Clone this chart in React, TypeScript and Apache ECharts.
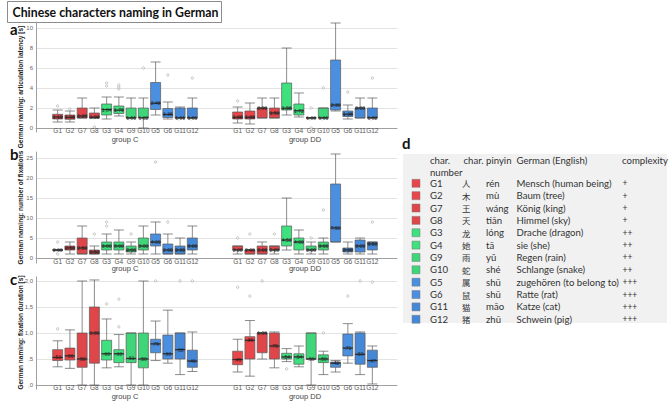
import React, { useEffect, useRef } from "react";
import * as echarts from "echarts";

// ---------- data ----------
const categories = ["G1", "G2", "G7", "G8", "G3", "G4", "G9", "G10", "G5", "G6", "G11", "G12"];
const groups = ["group C", "group DD"];

// [min, Q1, median, Q3, max]
const latencyC = [
  [0.6, 0.9, 1.1, 1.37, 1.8], [0.6, 0.87, 1.08, 1.3, 1.7], [1.0, 1.0, 1.2, 2.0, 3.0], [1.0, 1.0, 1.08, 1.5, 2.0],
  [0.9, 1.3, 1.84, 2.4, 3.1], [1.2, 1.45, 1.79, 2.2, 3.1], [1.0, 1.0, 1.01, 2.0, 3.0], [0.0, 1.0, 1.02, 2.0, 3.0],
  [1.3, 1.85, 2.48, 4.55, 6.6], [0.9, 1.05, 1.36, 1.95, 2.6], [1.0, 1.0, 1.01, 2.0, 2.1], [1.0, 1.0, 1.01, 2.0, 3.0],
];
const latencyDD = [
  [0.5, 0.9, 1.08, 1.6, 2.1], [0.4, 0.9, 1.08, 1.7, 2.5], [1.0, 1.0, 2.0, 2.0, 3.0], [1.0, 1.0, 1.5, 2.0, 3.0],
  [1.3, 1.8, 1.98, 4.5, 8.0], [1.1, 1.3, 1.72, 2.4, 3.5], [1.0, 1.0, 1.0, 1.05, 1.05], [1.0, 1.0, 1.01, 2.0, 2.0],
  [1.7, 1.8, 2.3, 6.8, 10.5], [0.9, 1.15, 1.38, 1.7, 2.3], [1.0, 1.0, 2.0, 2.0, 3.0], [1.0, 1.0, 1.02, 2.0, 3.0],
];
const latencyOutC = [[2.2], [1.9], [], [0.1], [4.2, 4.5], [3.9, 4.1, 4.3], [], [6.0], [], [5.3], [], [5.0]];
const latencyOutDD = [[2.7], [], [], [], [], [], [2.0, 0.0], [4.0], [], [3.6], [], [5.0]];

const fixCountC = [
  [2, 2, 2, 2, 2], [1, 2, 2.5, 3, 4], [1, 1, 2.5, 5, 8], [1, 1, 1.5, 2, 3],
  [1, 2, 3, 4, 6], [1, 2, 3, 4, 7], [1, 1.5, 2, 3, 4], [1, 2, 3, 5, 8],
  [1, 3, 4, 6, 9], [1, 1, 2, 3.5, 6], [1, 1, 2, 3, 5], [1, 2, 3, 5, 8],
];
const fixCountDD = [
  [1, 2, 2, 3, 3], [1, 1, 2, 2, 2], [1, 1, 2, 3, 4], [1, 2, 2, 3, 3],
  [2, 3, 4.5, 8, 15], [1, 2, 4, 5, 7], [1, 2, 2, 3, 4], [1, 2, 3, 4, 5],
  [4, 4, 7.5, 18.5, 26], [1, 1.5, 2, 2.5, 4], [1, 1.5, 3, 4.5, 5], [1, 2, 3.5, 4, 4],
];
const fixCountOutC = [[4, 1], [], [], [6], [8, 9], [], [6], [], [24], [9], [], []];
const fixCountOutDD = [[5], [6], [], [6], [], [], [5], [12], [], [], [], [9]];

const fixDurC = [
  [0.35, 0.47, 0.53, 0.68, 0.85], [0.32, 0.48, 0.56, 0.71, 1.06], [0.0, 0.34, 0.5, 1.0, 2.0], [0.0, 0.42, 1.0, 1.5, 2.02],
  [0.33, 0.48, 0.6, 0.86, 1.27], [0.35, 0.43, 0.6, 0.68, 0.97], [0.0, 0.43, 0.51, 1.0, 1.0], [0.0, 0.33, 0.5, 1.0, 2.0],
  [0.47, 0.62, 0.79, 0.88, 1.23], [0.42, 0.5, 0.6, 0.96, 1.44], [0.2, 0.5, 0.68, 1.0, 1.0], [0.26, 0.34, 0.46, 0.67, 1.02],
];
const fixDurDD = [
  [0.25, 0.39, 0.49, 0.65, 0.88], [0.17, 0.5, 0.86, 0.93, 1.24], [0.5, 0.62, 1.0, 1.0, 1.0], [0.33, 0.5, 0.75, 1.0, 1.02],
  [0.45, 0.5, 0.54, 0.61, 0.7], [0.35, 0.4, 0.54, 0.6, 0.75], [0.0, 0.5, 0.5, 1.0, 1.0], [0.2, 0.43, 0.5, 0.58, 0.65],
  [0.25, 0.34, 0.42, 0.44, 0.47], [0.42, 0.56, 0.71, 0.98, 1.18], [0.2, 0.4, 0.59, 1.0, 1.02], [0.02, 0.34, 0.47, 0.67, 0.75],
];
const fixDurOutC = [[1.08], [], [], [], [1.56], [1.12, 1.65], [], [], [2.0], [], [2.0], [2.0]];
const fixDurOutDD = [[1.88], [1.71], [2.0], [], [0.31], [], [], [1.0], [], [1.71], [2.0], [1.98]];

// table (panel d)
const tableChars = ["人", "木", "王", "天", "龙", "她", "雨", "蛇", "属", "鼠", "猫", "猪"];
const tablePinyin = ["rén", "mù", "wáng", "tiān", "lóng", "tā", "yǔ", "shé", "shū", "shū", "māo", "zhū"];
const tableGerman = [
  "Mensch (human being)", "Baum (tree)", "König (king)", "Himmel (sky)", "Drache (dragon)", "sie (she)",
  "Regen (rain)", "Schlange (snake)", "zugehören (to belong to)", "Ratte (rat)", "Katze (cat)", "Schwein (pig)",
];
const tableComplexity = ["+", "+", "+", "+", "++", "++", "++", "++", "+++", "+++", "+++", "+++"];
const tableHeader = ["char.", "char.", "pinyin", "German (English)", "complexity"];

const titleText = "Chinese characters naming in German";
const yTitles = [
  "German naming: articulation latency [s]",
  "German naming: number of fixations",
  "German naming: fixation duration [s]",
];

// ---------- styles ----------
const boxColors = [
  "#e8464a", "#e8464a", "#de4649", "#de4649",
  "#3fe07e", "#3fe07e", "#3fd679", "#3fd679",
  "#4a8fe0", "#4a8fe0", "#4688d8", "#4688d8",
];
const AX_FONT = "Liberation Sans";
const TBL_FONT = "Lato";

const dec = (v: number, d: number) => {
  const s = v.toFixed(d).replace(".", ",");
  return v < 1 && v >= 0 ? s.replace(/^0/, "") : s;
};

const panels = [
  {
    top: 22, height: 110, min: -0.4, max: 10.6, tickTop: 28, tickHeight: 100, tickMax: 10, interval: 2,
    titleY: 87, letter: "a", letterY: 29, nameGap: 3,
    data: [latencyC, latencyDD], outs: [latencyOutC, latencyOutDD],
    axisFmt: (v: number) => String(v), medFmt: (v: number) => v.toFixed(2).replace(".", ","),
  },
  {
    top: 152, height: 111, min: -1.25, max: 26.5, tickTop: 158, tickHeight: 100, tickMax: 25, interval: 5,
    titleY: 207.5, letter: "b", letterY: 154, nameGap: 1,
    data: [fixCountC, fixCountDD], outs: [fixCountOutC, fixCountOutDD],
    axisFmt: (v: number) => String(v), medFmt: (v: number) => v.toFixed(2).replace(".", ","),
  },
  {
    top: 276.84, height: 112.32, min: -0.08, max: 2.08, tickTop: 281, tickHeight: 104, tickMax: 2, interval: 0.5,
    titleY: 332.5, letter: "c", letterY: 279, nameGap: 3,
    data: [fixDurC, fixDurDD], outs: [fixDurOutC, fixDurOutDD],
    axisFmt: (v: number) => dec(v, 1), medFmt: (v: number) => dec(v, 2),
  },
];

const PLOT_LEFT = 36;
const PLOT_WIDTH = 361;
const GROUP_LEFT = [51.55, 231.55];
const GROUP_WIDTH = 146.9;

function buildOption() {
  const grid: any[] = [];
  const xAxis: any[] = [];
  const yAxis: any[] = [];
  const series: any[] = [];
  const graphic: any[] = [];

  panels.forEach((p, pi) => {
    const base = pi * 4;
    // frame grid
    grid.push({ left: PLOT_LEFT, width: PLOT_WIDTH, top: p.top, height: p.height, outerBoundsMode: "none" });
    xAxis.push({
      gridIndex: base, type: "value", min: 0, max: 1,
      axisLine: { show: true, lineStyle: { color: "#a0a0a0", width: 1 } },
      axisTick: { show: false }, axisLabel: { show: false }, splitLine: { show: false },
    });
    yAxis.push({
      gridIndex: base, type: "value", min: p.min, max: p.max,
      axisLine: { show: true, lineStyle: { color: "#a0a0a0", width: 1 } },
      axisTick: { show: false }, axisLabel: { show: false }, splitLine: { show: false },
    });
    // tick grid
    grid.push({ left: PLOT_LEFT, width: PLOT_WIDTH, top: p.tickTop, height: p.tickHeight, outerBoundsMode: "none" });
    xAxis.push({ gridIndex: base + 1, type: "value", min: 0, max: 1, show: false });
    yAxis.push({
      gridIndex: base + 1, type: "value", min: 0, max: p.tickMax, interval: p.interval,
      axisLine: { show: false }, axisTick: { show: false },
      axisLabel: { fontSize: 6, color: "#666", margin: 3, fontFamily: AX_FONT, formatter: p.axisFmt },
      splitLine: { show: true, lineStyle: { color: "#dcdcdc", width: 0.8 } },
    });
    // group grids
    [0, 1].forEach((g) => {
      const gi = base + 2 + g;
      grid.push({ left: GROUP_LEFT[g], width: GROUP_WIDTH, top: p.top, height: p.height, outerBoundsMode: "none" });
      xAxis.push({
        gridIndex: gi, type: "category", data: categories,
        axisLine: { show: false }, axisTick: { show: false },
        axisLabel: { interval: 0, fontSize: 6.5, color: "#555", margin: -5.5, fontFamily: AX_FONT },
        name: groups[g], nameLocation: "middle", nameGap: p.nameGap, nameMoveOverlap: false,
        nameTextStyle: { fontSize: 7.5, color: "#444", fontFamily: AX_FONT },
      });
      yAxis.push({ gridIndex: gi, type: "value", min: p.min, max: p.max, show: false });

      const vals = p.data[g];
      series.push({
        type: "boxplot", xAxisIndex: gi, yAxisIndex: gi, boxWidth: [10, 10],
        itemStyle: { borderColor: "#5a5a5a", borderWidth: 0.7 },
        data: vals.map((v, i) => ({ value: v, itemStyle: { color: boxColors[i], borderColor: "#5a5a5a", borderWidth: 0.7 } })),
        silent: true,
      });
      series.push({
        type: "scatter", xAxisIndex: gi, yAxisIndex: gi, symbol: "rect", symbolSize: [10, 1.3], z: 4,
        itemStyle: { color: "#1f1f1f" }, silent: true,
        label: {
          show: true, position: "inside", offset: [0, -2.6], fontSize: 5, color: "#111", fontFamily: AX_FONT,
          formatter: (q: any) => p.medFmt(q.value[1]),
        },
        labelLayout: { hideOverlap: false },
        data: vals.map((v, i) => [i, v[2]]),
      });
      const outs: number[][] = [];
      p.outs[g].forEach((arr, i) => arr.forEach((v) => outs.push([i, v])));
      series.push({
        type: "scatter", xAxisIndex: gi, yAxisIndex: gi, symbol: "circle", symbolSize: 2.4, z: 4, silent: true,
        itemStyle: { color: "#ffffff", borderColor: "#8a8a8a", borderWidth: 0.6 },
        data: outs,
      });
    });

    graphic.push({
      type: "text", x: 20, y: p.titleY, rotation: Math.PI / 2,
      style: { text: yTitles[pi], fontSize: 6.5, fontWeight: "bold", fontFamily: AX_FONT, fill: "#222", align: "center", verticalAlign: "middle" },
    });
    graphic.push({
      type: "text", x: 10, y: p.letterY,
      style: { text: p.letter, fontSize: 15, fontWeight: "bold", fontFamily: TBL_FONT, fill: "#111", align: "left", verticalAlign: "middle" },
    });
  });

  // title box
  graphic.push({ type: "rect", shape: { x: 7.5, y: 1.5, width: 214, height: 21 }, style: { fill: "#fff", stroke: "#8c8c8c", lineWidth: 1 } });
  graphic.push({
    type: "text", x: 12.5, y: 12.5,
    style: { text: titleText, fontSize: 12.3, fontWeight: "bold", fontFamily: TBL_FONT, fill: "#111", align: "left", verticalAlign: "middle" },
  });

  // table d
  graphic.push({
    type: "text", x: 402, y: 143,
    style: { text: "d", fontSize: 15, fontWeight: "bold", fontFamily: TBL_FONT, fill: "#111", align: "left", verticalAlign: "middle" },
  });
  graphic.push({ type: "rect", shape: { x: 403, y: 154, width: 264, height: 169 }, style: { fill: "#f1f1f1" } });
  const colX = [430, 463.5, 486, 516.5, 622];
  const tStyle = (text: string, x: number, y: number, family = TBL_FONT, size = 9.6) => ({
    type: "text", x, y,
    style: { text, fontSize: size, lineHeight: 11, fontFamily: family, fill: "#333", align: "left", verticalAlign: "middle" },
  });
  tableHeader.forEach((h, i) => graphic.push(tStyle(h, colX[i], 160)));
  graphic.push(tStyle("number", colX[0], 172));
  categories.forEach((c, i) => {
    const y = 183.3 + i * 12.36;
    graphic.push({
      type: "rect", shape: { x: 412, y: y - 4, width: 8, height: 8 },
      style: { fill: boxColors[i], stroke: "#7a7a7a", lineWidth: 0.5 },
    });
    graphic.push(tStyle(c, 430, y));
    graphic.push(tStyle(tableChars[i], 462, y, "Noto Sans CJK SC", 8.4));
    graphic.push(tStyle(tablePinyin[i], 486, y));
    graphic.push(tStyle(tableGerman[i], 516.5, y));
    graphic.push(tStyle(tableComplexity[i], 622.5, y, TBL_FONT, 8.5));
  });

  return { animation: false, backgroundColor: "#ffffff", grid, xAxis, yAxis, series, graphic };
}

export default function App() {
  const ref = useRef<HTMLDivElement>(null);
  useEffect(() => {
    if (!ref.current) return;
    const chart = echarts.init(ref.current, undefined, { renderer: "svg" });
    chart.setOption(buildOption() as any);
    return () => chart.dispose();
  }, []);
  return <div ref={ref} style={{ position: "fixed", left: 0, top: 0, width: 669, height: 403 }} />;
}
